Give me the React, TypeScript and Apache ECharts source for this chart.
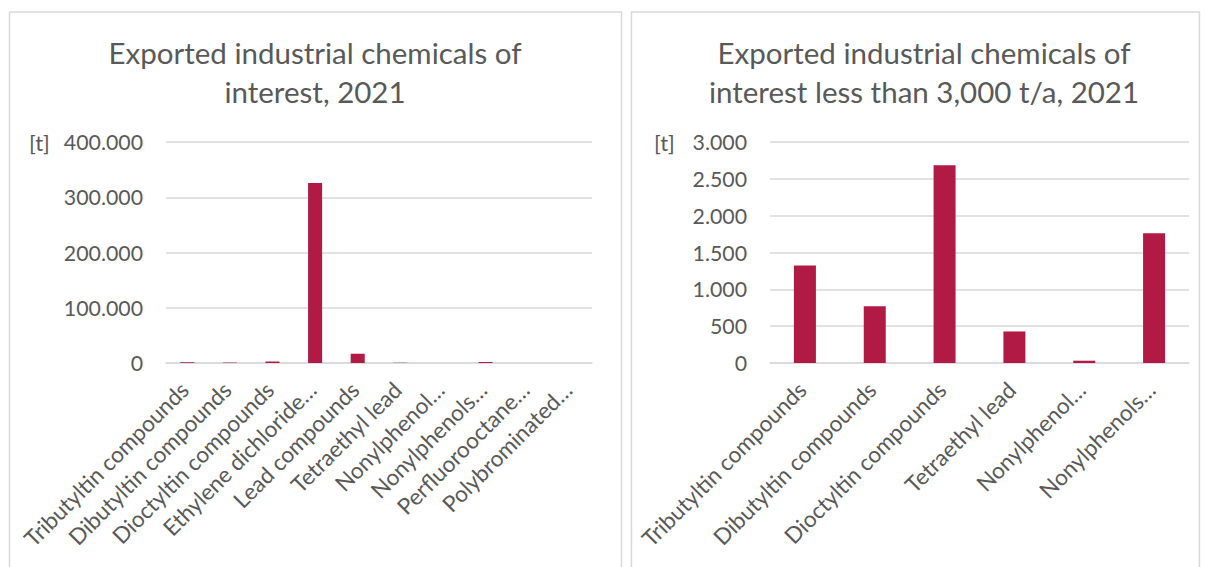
import React, { useEffect, useRef } from "react";
import * as echarts from "echarts";

const leftTitle = ["Exported industrial chemicals of", "interest, 2021"];
const rightTitle = ["Exported industrial chemicals of", "interest less than 3,000 t/a, 2021"];
const unitLabel = "[t]";

const leftCategories = [
  "Tributyltin compounds",
  "Dibutyltin compounds",
  "Dioctyltin compounds",
  "Ethylene dichloride…",
  "Lead compounds",
  "Tetraethyl lead",
  "Nonylphenol…",
  "Nonylphenols…",
  "Perfluorooctane…",
  "Polybrominated…",
];
const leftValues = [1325, 769, 2686, 326000, 16800, 428, 31, 1762, 0, 0];

const rightCategories = [
  "Tributyltin compounds",
  "Dibutyltin compounds",
  "Dioctyltin compounds",
  "Tetraethyl lead",
  "Nonylphenol…",
  "Nonylphenols…",
];
const rightValues = [1325, 769, 2686, 428, 31, 1762];

const leftTicks = { min: 0, max: 400000, interval: 100000 };
const rightTicks = { min: 0, max: 3000, interval: 500 };

const FONT = "Lato";
const TXT = "#595959";
const GRID = "#d9d9d9";
const BAR = "#b01a45";

const fmt = (v: number) => String(v).replace(/\B(?=(\d{3})+(?!\d))/g, ".");

export default function App() {
  const ref = useRef<HTMLDivElement>(null);
  useEffect(() => {
    if (!ref.current) return;
    const chart = echarts.init(ref.current, null, { renderer: "svg" });
    const xAxisCommon = {
      type: "category" as const,
      axisLine: { show: true, lineStyle: { color: GRID, width: 1.5 } },
      axisTick: { show: false },
      axisLabel: {
        rotate: 45,
        interval: 0,
        margin: 20,
        padding: [0, 4, 0, 0],
        color: TXT,
        fontFamily: FONT,
        fontSize: 22.5,
      },
    };
    const yAxisCommon = {
      type: "value" as const,
      axisLine: { show: false },
      axisTick: { show: false },
      splitLine: { lineStyle: { color: GRID, width: 1.5 } },
      axisLabel: {
        color: TXT,
        fontFamily: FONT,
        fontSize: 21.3,
        margin: 23,
        formatter: (v: number) => fmt(v),
      },
    };
    const titleText = (lines: string[], cx: number) =>
      lines.map((t, i) => ({
        type: "text",
        x: cx,
        y: 52 + i * 39,
        style: {
          text: t,
          fill: TXT,
          font: `29.5px ${FONT}`,
          textAlign: "center",
          textVerticalAlign: "middle",
        },
      }));
    chart.setOption({
      animation: false,
      backgroundColor: "#ffffff",
      graphic: [
        {
          type: "rect",
          shape: { x: 9.5, y: 12, width: 612, height: 600 },
          style: { fill: "none", stroke: GRID, lineWidth: 1.5 },
        },
        {
          type: "rect",
          shape: { x: 631.5, y: 12, width: 568, height: 600 },
          style: { fill: "none", stroke: GRID, lineWidth: 1.5 },
        },
        ...titleText(leftTitle, 315),
        ...titleText(rightTitle, 924),
        {
          type: "text",
          x: 29,
          y: 142,
          style: { text: unitLabel, fill: TXT, font: `22px ${FONT}`, textVerticalAlign: "middle" },
        },
        {
          type: "text",
          x: 654,
          y: 142,
          style: { text: unitLabel, fill: TXT, font: `22px ${FONT}`, textVerticalAlign: "middle" },
        },
      ],
      grid: [
        { left: 166, right: 1206 - 592, top: 142, bottom: 567 - 363 },
        { left: 770, right: 1206 - 1189, top: 142, bottom: 567 - 363 },
      ],
      xAxis: [
        { ...xAxisCommon, gridIndex: 0, data: leftCategories },
        { ...xAxisCommon, gridIndex: 1, data: rightCategories },
      ],
      yAxis: [
        { ...yAxisCommon, gridIndex: 0, ...leftTicks },
        { ...yAxisCommon, gridIndex: 1, ...rightTicks },
      ],
      series: [
        {
          type: "bar",
          xAxisIndex: 0,
          yAxisIndex: 0,
          data: leftValues,
          barWidth: "33%",
          itemStyle: { color: BAR },
        },
        {
          type: "bar",
          xAxisIndex: 1,
          yAxisIndex: 1,
          data: rightValues,
          barWidth: "31.5%",
          itemStyle: { color: BAR },
        },
      ],
    });
    return () => chart.dispose();
  }, []);
  return (
    <div
      ref={ref}
      style={{ position: "fixed", left: 0, top: 0, width: 1206, height: 567, background: "#fff" }}
    />
  );
}
